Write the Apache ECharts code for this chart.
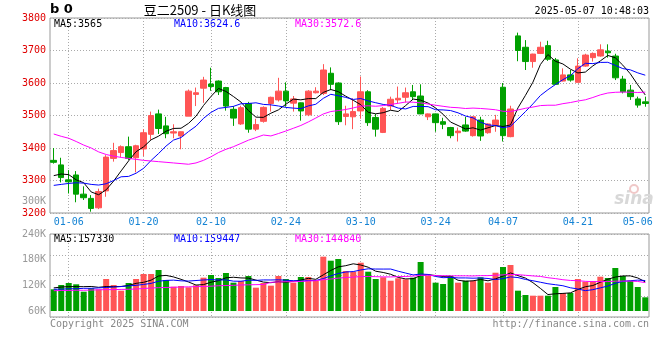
<!DOCTYPE html>
<html><head><meta charset="utf-8">
<script src="https://cdn.jsdelivr.net/npm/echarts@6/dist/echarts.min.js"></script>
<style>html,body{margin:0;padding:0;background:#fff}#c{width:660px;height:360px}</style>
</head><body><div id="c"></div>
<script>
const dates = ['01-02','01-03','01-06','01-07','01-08','01-09','01-10','01-13','01-14','01-15','01-16','01-17','01-20','01-21','01-22','01-23','01-24','01-27','02-05','02-06','02-07','02-10','02-11','02-12','02-13','02-14','02-17','02-18','02-19','02-20','02-21','02-24','02-25','02-26','02-27','02-28','03-03','03-04','03-05','03-06','03-07','03-10','03-11','03-12','03-13','03-14','03-17','03-18','03-19','03-20','03-21','03-24','03-25','03-26','03-27','03-28','03-31','04-01','04-02','04-03','04-07','04-08','04-09','04-10','04-11','04-14','04-15','04-16','04-17','04-18','04-21','04-22','04-23','04-24','04-25','04-28','04-29','04-30','05-06','05-07'];
const opens = [3362,3348,3302,3317,3258,3245,3216,3268,3368,3386,3404,3370,3397,3442,3505,3468,3446,3437,3498,3565,3584,3597,3606,3586,3519,3474,3537,3458,3482,3537,3548,3575,3538,3539,3502,3570,3568,3630,3600,3497,3496,3514,3573,3494,3448,3529,3548,3556,3573,3560,3496,3505,3481,3463,3447,3471,3438,3486,3447,3471,3587,3435,3745,3710,3666,3691,3715,3671,3606,3625,3602,3652,3678,3683,3698,3683,3612,3578,3551,3542];
const closes = [3356,3309,3296,3258,3247,3214,3266,3372,3392,3404,3368,3407,3447,3500,3460,3444,3450,3450,3575,3570,3609,3589,3573,3529,3492,3524,3458,3472,3525,3556,3575,3545,3551,3514,3575,3575,3640,3596,3481,3505,3512,3573,3478,3458,3522,3550,3553,3570,3558,3505,3505,3478,3473,3438,3452,3452,3496,3437,3474,3486,3438,3520,3700,3666,3689,3710,3673,3596,3625,3609,3652,3686,3691,3702,3693,3616,3573,3558,3532,3537];
const lows = [3352,3294,3260,3233,3240,3204,3212,3250,3358,3372,3363,3325,3375,3425,3443,3430,3430,3396,3498,3529,3539,3576,3563,3515,3468,3471,3447,3452,3478,3512,3543,3527,3512,3484,3498,3568,3563,3578,3471,3470,3458,3490,3468,3435,3446,3517,3537,3540,3548,3504,3486,3450,3458,3430,3420,3450,3435,3422,3444,3450,3420,3433,3667,3640,3647,3689,3668,3595,3605,3604,3602,3650,3666,3681,3678,3609,3568,3548,3524,3527];
const highs = [3400,3370,3332,3329,3282,3255,3275,3378,3416,3408,3435,3410,3458,3512,3518,3496,3473,3451,3580,3586,3619,3647,3608,3588,3529,3530,3542,3490,3528,3558,3616,3602,3560,3540,3578,3587,3658,3648,3602,3530,3553,3620,3578,3505,3526,3558,3589,3586,3594,3596,3506,3506,3493,3465,3463,3496,3498,3496,3476,3502,3600,3530,3755,3732,3690,3727,3730,3677,3645,3640,3676,3690,3694,3719,3719,3690,3622,3594,3558,3558];
const volumes = [110700,120800,125500,122400,105100,113100,110700,134800,120800,107500,125500,134800,146500,146500,155900,132500,116800,118500,115400,120100,137900,144200,137200,148800,126200,130100,141800,114500,125500,119200,141800,134800,126200,139500,139500,130100,187000,177600,181600,153500,151900,172900,151900,134800,138800,130800,136500,134100,137900,174600,141800,126200,123100,141800,126200,130800,130800,138800,126200,149500,162900,167500,107500,97400,95800,95800,95800,116100,102100,102100,134800,128500,130100,140200,137200,160500,141800,130800,116100,92000];
// moving-average values before enough history exists in this window
const ma5Head = [3315,3320,3318,3302];
const ma10Head = [3285,3288,3291,3293,3292,3288,3286,3290,3300];
const ma30Head = [3443,3436,3430,3420,3409,3400,3388,3380,3375,3371,3368,3365,3362,3360,3358,3356,3354,3352,3350,3354,3362,3373,3386,3396,3404,3414,3424,3432,3440];
const volMa5Head = [114000,116000,117000,117000];
const volMa10Head = [111000,111000,112000,112000,113000,113000,114000,115000,116000];
const volMa30Head = [107500,108000,108000,108500,108500,109000,109500,110000,110000,110500,110700,111500,112500,113800,114500,115000,115500,116000,116500,117000,117300,118000,119000,119600,120000,120800,121200,121600,122000];
const priceMin = 3200, priceMax = 3800, priceStep = 100;
const volTickValues = [60000,120000,180000,240000];
const volTickLabels = ['60K','120K','180K','240K'];
const gridDates = ['01-06','01-20','02-10','02-24','03-10','03-24','04-07','04-21'];
const labelDates = ['01-06','01-20','02-10','02-24','03-10','03-24','04-07','04-21','05-06'];
const priceLegend = ['MA5:3565','MA10:3624.6','MA30:3572.6'];
const volLegend = ['MA5:157330','MA10:159447','MA30:144840'];
const titleText = '豆二2509 - 日K线图';
const timeText = '2025-05-07 10:48:03';

function movingAvg(values, n, head) {
  return values.map((v, i) => {
    if (i < n - 1) return head[i];
    let s = 0;
    for (let k = i - n + 1; k <= i; k++) s += values[k];
    return +(s / n).toFixed(1);
  });
}

const RED = '#ff5555', GREEN = '#00a000';
const MONO = '"DejaVu Sans Mono", "Liberation Mono", monospace';
const candleData = dates.map((d, i) => [opens[i], closes[i], lows[i], highs[i]]);
const volData = volumes.map((v, i) => ({ value: v, itemStyle: { color: closes[i] >= opens[i] ? RED : GREEN } }));
const dotted = { type: [1, 2], color: '#aaa', width: 1 };
const lineS = (name, data, color, xi, yi) => ({
  name, type: 'line', data, xAxisIndex: xi, yAxisIndex: yi, symbol: 'none', showSymbol: false,
  silent: true, lineStyle: { color, width: 1 }, z: 5
});

const chart = echarts.init(document.getElementById('c'), null, { renderer: 'canvas' });
const GL = 50, GW = 599;
chart.setOption({
  animation: false,
  backgroundColor: '#fff',
  grid: [
    { left: GL, top: 18, width: GW, height: 195, show: true, borderColor: '#999', borderWidth: 1 },
    { left: GL, top: 234, width: GW, height: 83, show: true, borderColor: '#999', borderWidth: 1 },
    { left: GL, top: 234, width: GW, height: 77, show: false }
  ],
  xAxis: [
    { type: 'category', gridIndex: 0, data: dates, boundaryGap: true,
      axisLine: { show: false }, axisTick: { show: false },
      axisLabel: { interval: (i, v) => labelDates.includes(v), color: '#1483d4', fontFamily: MONO, fontSize: 10, margin: 4 },
      splitLine: { show: true, alignWithLabel: true, interval: (i, v) => gridDates.includes(v), lineStyle: dotted } },
    { type: 'category', gridIndex: 1, data: dates, boundaryGap: true,
      axisLine: { show: false }, axisTick: { show: false }, axisLabel: { show: false },
      splitLine: { show: true, alignWithLabel: true, interval: (i, v) => gridDates.includes(v), lineStyle: dotted } },
    { type: 'category', gridIndex: 2, data: dates, boundaryGap: true,
      axisLine: { show: false }, axisTick: { show: false }, axisLabel: { show: false }, splitLine: { show: false } }
  ],
  yAxis: [
    { type: 'value', gridIndex: 0, min: priceMin, max: priceMax, interval: priceStep,
      axisLine: { show: false }, axisTick: { show: false },
      axisLabel: { color: '#e00000', fontFamily: MONO, fontSize: 10, margin: 4, formatter: (v) => String(v) },
      splitLine: { show: true, lineStyle: dotted } },
    { type: 'value', gridIndex: 1, min: 0, max: 4, interval: 1,
      axisLine: { show: false }, axisTick: { show: false }, axisLabel: { show: false },
      splitLine: { show: true, lineStyle: dotted } },
    { type: 'value', gridIndex: 2, min: volTickValues[0], max: volTickValues[volTickValues.length - 1], interval: volTickValues[1] - volTickValues[0],
      axisLine: { show: false }, axisTick: { show: false },
      axisLabel: { color: '#999', fontFamily: MONO, fontSize: 10, margin: 4,
        formatter: (v) => volTickLabels[volTickValues.indexOf(v)] || '' },
      splitLine: { show: false } }
  ],
  series: [
    { name: 'K', type: 'candlestick', xAxisIndex: 0, yAxisIndex: 0, data: candleData, barWidth: 6,
      itemStyle: { color: RED, color0: GREEN, borderColor: RED, borderColor0: GREEN, borderWidth: 1 } },
    lineS('MA5', movingAvg(closes, 5, ma5Head), '#000000', 0, 0),
    lineS('MA10', movingAvg(closes, 10, ma10Head), '#0000ff', 0, 0),
    lineS('MA30', movingAvg(closes, 30, ma30Head), '#ff00ff', 0, 0),
    { name: 'VOL', type: 'bar', xAxisIndex: 2, yAxisIndex: 2, data: volData, barWidth: 6 },
    lineS('VMA5', movingAvg(volumes, 5, volMa5Head), '#000000', 2, 2),
    lineS('VMA10', movingAvg(volumes, 10, volMa10Head), '#0000ff', 2, 2),
    lineS('VMA30', movingAvg(volumes, 30, volMa30Head), '#ff00ff', 2, 2)
  ],
  graphic: [
    { type: 'text', x: 50, y: 10, style: { text: 'b 0', font: 'bold 13px "DejaVu Sans"', fill: '#000', verticalAlign: 'middle' } },
    { type: 'text', x: 200, y: 10, style: { text: titleText, font: '13px "Noto Sans CJK SC"', fill: '#000', align: 'center', verticalAlign: 'middle' } },
    { type: 'text', x: 649, y: 11, style: { text: timeText, font: '10px ' + MONO, fill: '#000', align: 'right', verticalAlign: 'middle' } },
    { type: 'text', x: 54, y: 24, style: { text: priceLegend[0], font: '10px ' + MONO, fill: '#000', verticalAlign: 'middle' } },
    { type: 'text', x: 174, y: 24, style: { text: priceLegend[1], font: '10px ' + MONO, fill: '#0000ff', verticalAlign: 'middle' } },
    { type: 'text', x: 295, y: 24, style: { text: priceLegend[2], font: '10px ' + MONO, fill: '#ff00ff', verticalAlign: 'middle' } },
    { type: 'text', x: 54, y: 239, style: { text: volLegend[0], font: '10px ' + MONO, fill: '#000', verticalAlign: 'middle' } },
    { type: 'text', x: 174, y: 239, style: { text: volLegend[1], font: '10px ' + MONO, fill: '#0000ff', verticalAlign: 'middle' } },
    { type: 'text', x: 295, y: 239, style: { text: volLegend[2], font: '10px ' + MONO, fill: '#ff00ff', verticalAlign: 'middle' } },
    { type: 'text', x: 46, y: 201, style: { text: '300K', font: '10px ' + MONO, fill: '#999', align: 'right', verticalAlign: 'middle' } },
    { type: 'text', x: 50, y: 324, style: { text: 'Copyright 2025 SINA.COM', font: '10px ' + MONO, fill: '#888', verticalAlign: 'middle' } },
    { type: 'text', x: 649, y: 324, style: { text: 'http://finance.sina.com.cn', font: '10px ' + MONO, fill: '#888', align: 'right', verticalAlign: 'middle' } },
    { type: 'text', x: 634, y: 200, style: { text: 'sina', font: 'italic bold 17px "DejaVu Sans"', fill: '#d8d8d8', align: 'center', verticalAlign: 'middle' } },
    { type: 'circle', shape: { cx: 634, cy: 189, r: 4 }, style: { fill: 'none', stroke: '#f0c8c8', lineWidth: 2 } }
  ]
});
</script></body></html>
